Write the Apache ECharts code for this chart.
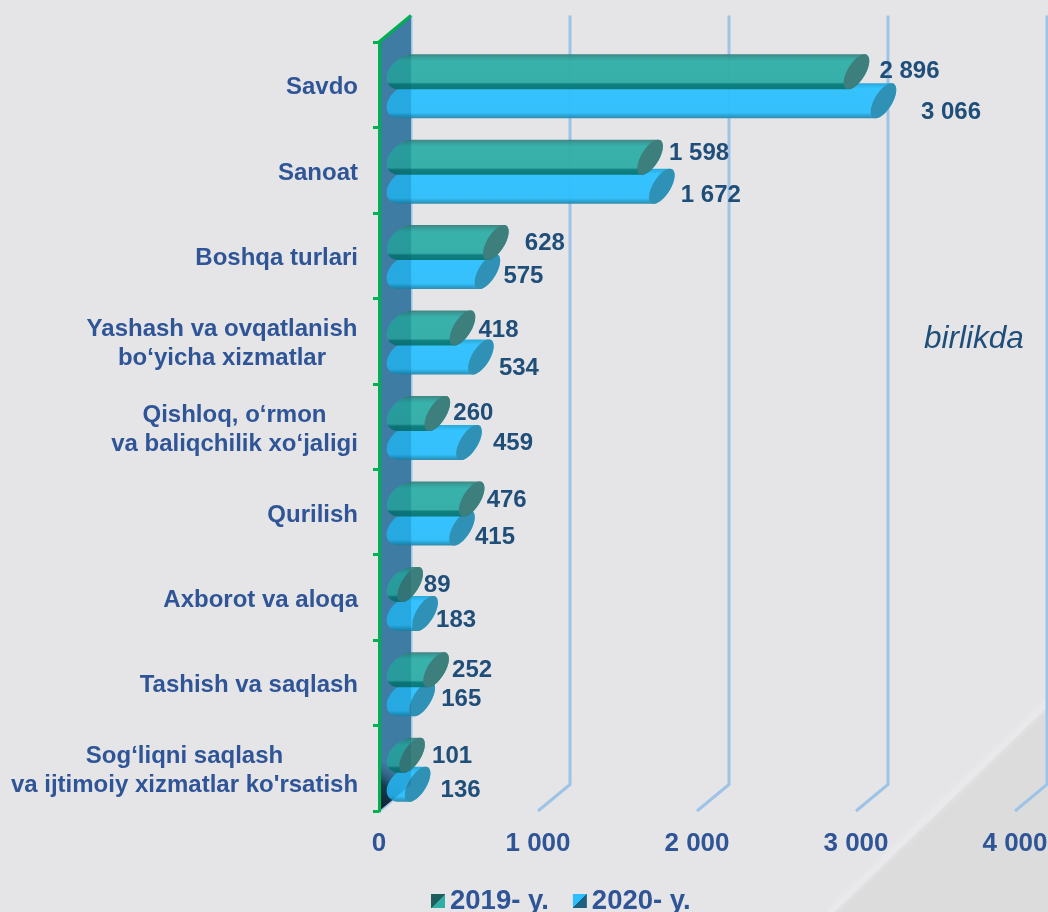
<!DOCTYPE html>
<html><head><meta charset="utf-8">
<style>html,body{margin:0;padding:0;background:#e5e5e8}#c{width:1048px;height:912px}</style>
<script src="https://cdn.jsdelivr.net/npm/echarts@6/dist/echarts.min.js"></script>
</head><body><div id="c"></div>
<script>
const categories = ["Savdo","Sanoat","Boshqa turlari","Yashash va ovqatlanish\nbo‘yicha xizmatlar","Qishloq, o‘rmon\nva baliqchilik xo‘jaligi","Qurilish","Axborot va aloqa","Tashish va saqlash","Sog‘liqni saqlash\nva ijtimoiy xizmatlar ko'rsatish"];
const values2019 = [2896,1598,628,418,260,476,89,252,101];
const values2020 = [3066,1672,575,534,459,415,183,165,136];
const labels2019 = ["2 896","1 598","628","418","260","476","89","252","101"];
const labels2020 = ["3 066","1 672","575","534","459","415","183","165","136"];
const xTicks = [0,1000,2000,3000,4000];
const xTickLabels = ["0","1 000","2 000","3 000","4 000"];
const seriesNames = ["2019- y.","2020- y."];
// hand placement of the value labels, relative to bar end / band centre
const nudge2019 = [[70,-14.5],[66,-18],[66,-13.5],[53,-12],[53,-14],[52,-12.5],[44,-13],[53,-13],[57,-12.5]];
const nudge2020 = [[84.5,26.5],[66,24],[53,19.5],[55,26],[61,16],[50,24.5],[48,22],[56,16],[60,21.5]];

const G = echarts.graphic;
const DX = 32, DY = -26.5, K = 0.5523;
const grad = (a)=> new G.LinearGradient(0,0,0,1,a.map(([o,c])=>({offset:o,color:c})));
const fmt = (p)=> p[0].toFixed(1)+' '+p[1].toFixed(1);
const add = (...ps)=> ps.reduce((s,[p,m])=>[s[0]+p[0]*m,s[1]+p[1]*m],[0,0]);
function halfRight(C,U,V){
  return 'C'+fmt(add([C,1],[V,1],[U,K]))+' '+fmt(add([C,1],[U,1],[V,K]))+' '+fmt(add([C,1],[U,1]))+
         'C'+fmt(add([C,1],[U,1],[V,-K]))+' '+fmt(add([C,1],[V,-1],[U,K]))+' '+fmt(add([C,1],[V,-1]));
}
function halfLeft(C,U,V){
  return 'C'+fmt(add([C,1],[V,-1],[U,-K]))+' '+fmt(add([C,1],[U,-1],[V,-K]))+' '+fmt(add([C,1],[U,-1]))+
         'C'+fmt(add([C,1],[U,-1],[V,K]))+' '+fmt(add([C,1],[V,1],[U,-K]))+' '+fmt(add([C,1],[V,1]));
}
function barRenderer(look, labels, nudge, yOff){
  return function(params, api){
    const i = params.dataIndex;
    const end = api.coord([api.value(0), i]);
    const base = api.coord([0, i]);
    const cy = end[1] + yOff;
    const Rc = [end[0]+17, cy], Lc = [Math.min(base[0]+27, end[0]+17), cy];
    const U=[10,0], V=[8,-17.5], UL=[18,0], VL=[7,-17.5];
    const body = 'M'+fmt(add([Lc,1],[VL,1]))+'L'+fmt(add([Rc,1],[V,1]))+halfRight(Rc,U,V)+
                 'L'+fmt(add([Lc,1],[VL,-1]))+halfLeft(Lc,UL,VL)+'Z';
    const cap = 'M'+fmt(add([Rc,1],[V,1]))+halfRight(Rc,U,V)+halfLeft(Rc,U,V)+'Z';
    return {type:'group', children:[
      {type:'path', shape:{pathData:body}, style:{fill:grad(look.body), opacity:.95}},
      {type:'path', shape:{pathData:cap}, style:{fill:look.cap}},
      {type:'text', style:{text:labels[i], x:end[0]+nudge[i][0], y:end[1]+nudge[i][1]+1, align:'center', verticalAlign:'middle',
        font:'bold 24px "Liberation Sans"', fill:'#1f4e79'}}
    ]};
  };
}
const tealLook = {cap:'#3d7f7c', body:[[0,'#3a7f7c'],[.1,'#2f9e99'],[.2,'#2fafa8'],[.8,'#2fada6'],[.86,'#0d7d7a'],[1,'#0a7674']]};
const blueLook = {cap:'#2f91b6', body:[[0,'#1ea6d8'],[.15,'#2cc0ff'],[.84,'#2cbefd'],[.93,'#1f9fd0'],[1,'#2a86a8']]};

function wall(params, api, under){
  const r = params.coordSys, l=r.x, t=r.y, b=r.y+r.height;
  const pts=[[l,t],[l+DX,t+DY],[l+DX,b+DY],[l,b]];
  if(!under) return {type:'polygon', shape:{points:pts}, style:{fill:'rgba(0,60,90,0.15)'}};
  return {type:'group', children:[
    {type:'polygon', shape:{points:pts}, style:{fill:'#4b88b2'}},
    {type:'polygon', shape:{points:[[l,b-50],[l+DX,b+DY-14],[l+DX,b+DY],[l,b]]},
     style:{fill:new G.LinearGradient(0,1,.8,.15,[{offset:0,color:'#0e1a24'},{offset:.5,color:'#1c3a4e'},{offset:1,color:'rgba(75,136,178,0)'}])}},
  ]};
}
const labelFont = {color:'#2f5597',fontFamily:'Liberation Sans',fontWeight:'bold',fontSize:24,lineHeight:29};
const option = {
  backgroundColor:'#e5e5e8',
  animation:false,
  grid:{left:379,width:636,top:42,height:769,containLabel:false,outerBoundsMode:'none'},
  xAxis:{type:'value',min:0,max:4000,interval:1000,
    axisLine:{show:false},axisTick:{show:false},splitLine:{show:false},
    axisLabel:{margin:20,color:'#2f5597',fontFamily:'Liberation Sans',fontWeight:'bold',fontSize:26,hideOverlap:false,
      formatter:(v)=>xTickLabels[xTicks.indexOf(v)]}},
  yAxis:{type:'category',inverse:true,data:categories,z:10,
    axisLine:{show:true,lineStyle:{color:'#00b050',width:3}},
    axisTick:{show:true,length:6,lineStyle:{color:'#00b050',width:3}},
    axisLabel:{margin:21,align:'right',padding:[6,0,0,0],...labelFont,
      formatter:(v)=>{
        if(v.indexOf('\n')<0) return v;
        const w = v.startsWith('Yashash')?'a':v.startsWith('Qishloq')?'b':'c';
        return v.split('\n').map(s=>'{'+w+'|'+s+'}').join('\n');
      },
      rich:{
        a:{width:272,align:'center',...labelFont},
        b:{width:247,align:'center',...labelFont},
        c:{width:347,align:'center',...labelFont}
      }}},
  legend:{left:426,top:882,itemWidth:14,itemHeight:14,itemGap:24,icon:'rect',
    textStyle:{color:'#2f5597',fontFamily:'Liberation Sans',fontWeight:'bold',fontSize:27.5},
    data:[
      {name:seriesNames[0],itemStyle:{color:new G.LinearGradient(0,0,1,1,[{offset:0,color:'#1e5f5c'},{offset:.5,color:'#1e5f5c'},{offset:.5,color:'#2fada6'},{offset:1,color:'#2fada6'}])}},
      {name:seriesNames[1],itemStyle:{color:new G.LinearGradient(0,0,1,1,[{offset:0,color:'#2cbefd'},{offset:.5,color:'#2cbefd'},{offset:.5,color:'#1f5f80'},{offset:1,color:'#1f5f80'}])}}
    ]},
  graphic:[
    {type:'polygon',z:-10,silent:true,shape:{points:[[1048,702],[1048,912],[830,912]]},style:{fill:'#dcdcdd'}},
    {type:'line',z:-9,silent:true,shape:{x1:1048,y1:702,x2:830,y2:912},style:{stroke:'#e9e9eb',lineWidth:6,shadowBlur:6,shadowColor:'#e9e9eb'}},
    {type:'text',left:924,top:323,style:{text:'birlikda',font:'italic 31.5px "Liberation Sans"',fill:'#1f4e79'}}
  ],
  series:[
    {type:'custom',name:'grid',silent:true,z:1,data:xTicks.map(v=>[v]),encode:{x:0},
     renderItem:(p,api)=>{
       const r=p.coordSys, x=api.coord([api.value(0),0])[0], b=r.y+r.height;
       return {type:'polyline',shape:{points:[[x+DX,r.y+DY],[x+DX,b+DY],[x,b]]},style:{fill:null,stroke:'#9dc3e6',lineWidth:3}};
     }},
    {type:'custom',name:'wall',silent:true,z:2,data:[[0]],encode:{x:0},renderItem:(p,api)=>wall(p,api,true)},
    {type:'custom',name:seriesNames[1],silent:true,z:4,itemStyle:{color:'#2cbefd'},data:values2020.map((v,i)=>[v,i]),encode:{x:0,y:1},
     renderItem:barRenderer(blueLook,labels2020,nudge2020,16)},
    {type:'custom',name:seriesNames[0],silent:true,z:5,itemStyle:{color:'#2fada6'},data:values2019.map((v,i)=>[v,i]),encode:{x:0,y:1},
     renderItem:barRenderer(tealLook,labels2019,nudge2019,-13)},
    {type:'custom',name:'wallOver',silent:true,z:6,data:[[0]],encode:{x:0},renderItem:(p,api)=>wall(p,api,false)},
    {type:'custom',name:'edge',silent:true,z:7,data:[[0]],encode:{x:0},
     renderItem:(p,api)=>{const r=p.coordSys;return {type:'line',shape:{x1:r.x,y1:r.y,x2:r.x+DX,y2:r.y+DY},style:{stroke:'#00b050',lineWidth:3}};}}
  ]
};
const chart = echarts.init(document.getElementById('c'),null,{renderer:'canvas'});
chart.setOption(option);
</script></body></html>
